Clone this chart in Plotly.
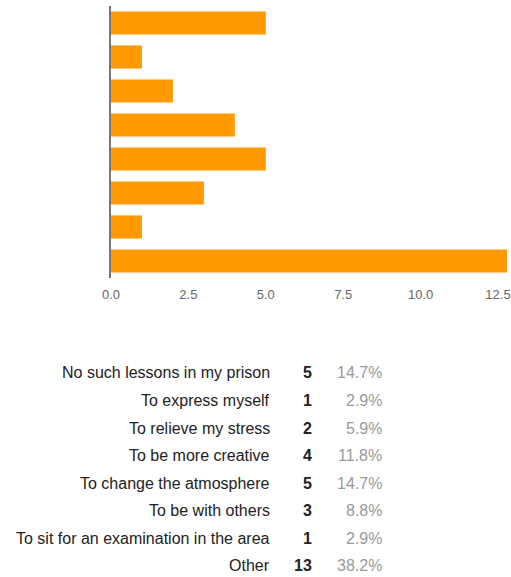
import plotly.graph_objects as go

categories = [
    "No such lessons in my prison",
    "To express myself",
    "To relieve my stress",
    "To be more creative",
    "To change the atmosphere",
    "To be with others",
    "To sit for an examination in the area",
    "Other",
]
counts = [5, 1, 2, 4, 5, 3, 1, 13]
percents = ["14.7%", "2.9%", "5.9%", "11.8%", "14.7%", "8.8%", "2.9%", "38.2%"]
x_ticks = [0, 2.5, 5, 7.5, 10, 12.5]

W, H = 511, 577
ML, MT, MB = 111, 6, 0

fig = go.Figure()
fig.add_trace(go.Bar(
    x=counts, y=categories, orientation="h",
    marker=dict(color="#FF9900", line=dict(width=0)),
    hoverinfo="skip",
))

annotations = []
for i, (c, n, p) in enumerate(zip(categories, counts, percents)):
    annotations.append(dict(text=c, x=(274 - ML) / (W - ML), y=i, xref="paper", yref="y2",
                            xanchor="right", yanchor="middle", showarrow=False,
                            font=dict(size=16, color="#222222")))
    annotations.append(dict(text="<b>%d</b>" % n, x=(316 - ML) / (W - ML), y=i, xref="paper", yref="y2",
                            xanchor="right", yanchor="middle", showarrow=False,
                            font=dict(size=16, color="#222222")))
    annotations.append(dict(text=p, x=(387 - ML) / (W - ML), y=i, xref="paper", yref="y2",
                            xanchor="right", yanchor="middle", showarrow=False,
                            font=dict(size=16, color="#999999")))

plot_h = H - MT - MB
fig.update_layout(
    width=W, height=H,
    margin=dict(l=ML, r=0, t=MT, b=MB, pad=0),
    paper_bgcolor="white", plot_bgcolor="white",
    showlegend=False,
    bargap=0.32,
    font=dict(family="Liberation Sans, Arial, sans-serif"),
    xaxis=dict(range=[0, 12.79], tickvals=x_ticks, tickformat=".1f",
               showgrid=False, zeroline=False, showline=False, ticks="",
               ticklabelstandoff=7, ticklabeloverflow="allow",
               tickfont=dict(size=13, color="#666666"), fixedrange=True),
    yaxis=dict(domain=[(H - 278) / plot_h, 1], autorange="reversed",
               showticklabels=False, showgrid=False, zeroline=False,
               showline=True, linecolor="#777777", linewidth=2, ticks="",
               fixedrange=True),
    yaxis2=dict(domain=[0, 0.4], range=[(577 - 373) / 27.57, (H - 0.4 * plot_h - 373) / 27.57],
                visible=False, anchor="x", fixedrange=True),
    annotations=annotations,
)

fig.write_html("out.html",
               config={"displayModeBar": False, "staticPlot": True},
               post_script="document.body.style.margin='0';document.body.style.overflow='hidden';")
